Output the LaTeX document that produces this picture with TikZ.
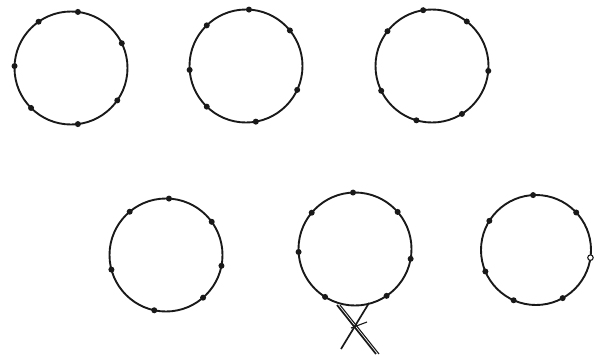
\documentclass[tikz,border=0pt]{standalone}
\begin{document}
\begin{tikzpicture}[x=1pt,y=-1pt,
  ring/.style={circle,draw=black!90,line width=1.9pt,minimum size=113pt,inner sep=0pt,outer sep=0pt},
  pt/.style={circle,fill=black!90,inner sep=0pt,minimum size=6pt},
  opt/.style={circle,draw=black!90,fill=white,line width=1.1pt,inner sep=0pt,minimum size=5.5pt},
  stroke/.style={draw=black!90,line width=1.7pt}]
\useasboundingbox (0,0) rectangle (600,354);
\node[ring] (c1) at (71,68) {};
\node[ring] (c2) at (246,66) {};
\node[ring] (c3) at (432,66) {};
\node[ring] (c4) at (166,255) {};
\node[ring] (c5) at (355,249) {};
\node[ring,minimum size=110pt] (c6) at (536,250) {};
\foreach \a [count=\i] in {83,125,26,178,-35,-135,-83}
  \node[pt] (d1-\i) at (c1.\a) {};
\foreach \a [count=\i] in {87,134,39,184,-25,-134,-80}
  \node[pt] (d2-\i) at (c2.\a) {};
\foreach \a [count=\i] in {99,52,142,-5,-154,-58,-106}
  \node[pt] (d3-\i) at (c3.\a) {};
\foreach \a [count=\i] in {87,130,36,-165,-11,-49,-102}
  \node[pt] (d4-\i) at (c4.\a) {};
\foreach \a [count=\i] in {92,140,41,-177,-10,-122,-56}
  \node[pt] (d5-\i) at (c5.\a) {};
\foreach \a [count=\i] in {93,43,148,-157,-114,-61}
  \node[pt] (d6-\i) at (c6.\a) {};
\node[opt] (d6-7) at (c6.-8) {};
% crossed strands below the fifth ring
\coordinate (xa1) at (337,305);
\coordinate (xa2) at (376,354);
\coordinate (xb1) at (369,303);
\coordinate (xb2) at (341,349);
\coordinate (xt1) at (351,328);
\coordinate (xt2) at (367,322);
\draw[stroke] (xa1) -- (xa2);
\draw[stroke,line width=1.1pt] ([xshift=3pt]xa1) -- ([xshift=3pt]xa2);
\draw[stroke] (xb1) -- (xb2);
\draw[stroke,line width=1.1pt] (xt1) -- (xt2);
\end{tikzpicture}
\end{document}
